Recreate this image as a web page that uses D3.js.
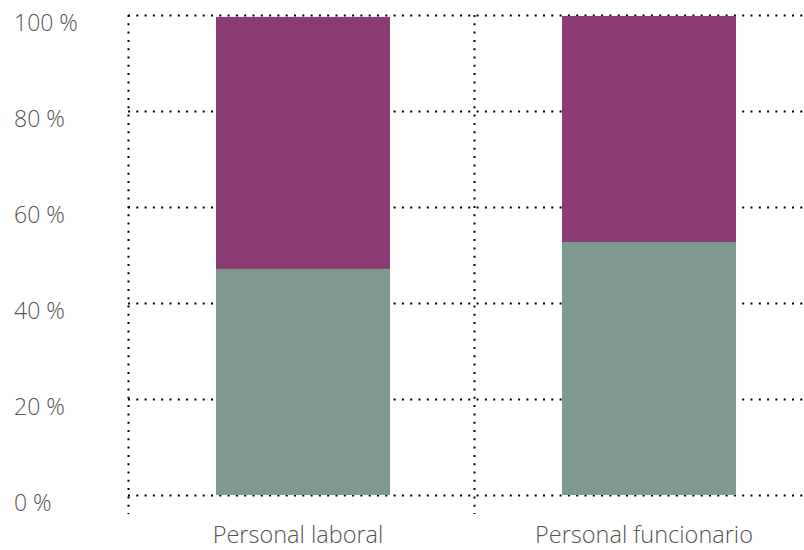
<!DOCTYPE html>
<html><head><meta charset="utf-8">
<script src="https://cdn.jsdelivr.net/npm/d3@7"></script>
<style>
html,body{margin:0;padding:0;background:#fff;}
text{font-family:"Open Sans","Segoe UI",sans-serif;font-weight:300;fill:#555555;}
</style></head>
<body><svg id="c" width="804" height="550"></svg>
<script>
const categories = ["Personal laboral", "Personal funcionario"];
const greenValues = [47.1, 52.7];
const purpleValues = [52.5, 47.1];
const yTicks = [0, 20, 40, 60, 80, 100];
const yTickLabels = ["0 %", "20 %", "40 %", "60 %", "80 %", "100 %"];

const svg = d3.select("#c");
const x = d3.scaleBand().domain(categories).range([128, 820]).paddingInner(0).paddingOuter(0);
const y = d3.scaleLinear().domain([0, 100]).range([495, 15]);
const barW = x.bandwidth() * 0.503;
const dash = "2 6.3";

// horizontal gridlines
svg.append("g").selectAll("line").data(yTicks).join("line")
  .attr("x1", 128).attr("x2", 804)
  .attr("y1", d => y(d) + 0.5).attr("y2", d => y(d) + 0.5)
  .attr("stroke", "#000").attr("stroke-width", 2).attr("stroke-dasharray", dash);

// vertical gridlines at category boundaries
const bounds = [x(categories[0]), x(categories[1])];
svg.append("g").selectAll("line").data(bounds).join("line")
  .attr("x1", d => d + 0.5).attr("x2", d => d + 0.5)
  .attr("y1", y(100)).attr("y2", 514)
  .attr("stroke", "#000").attr("stroke-width", 2).attr("stroke-dasharray", dash);

// bars
const data = categories.map((c, i) => ({c, g: greenValues[i], p: purpleValues[i]}));
const bx = d => x(d.c) + x.bandwidth() / 2 - barW / 2 + 2;
svg.append("g").selectAll("rect").data(data).join("rect")
  .attr("x", bx).attr("width", barW)
  .attr("y", d => y(d.g)).attr("height", d => y(0) - y(d.g))
  .attr("fill", "#7E998F");
svg.append("g").selectAll("rect").data(data).join("rect")
  .attr("x", bx).attr("width", barW)
  .attr("y", d => y(d.g + d.p)).attr("height", d => y(d.g) - y(d.g + d.p))
  .attr("fill", "#8A3B73");

// y tick labels
svg.append("g").selectAll("text").data(yTicks).join("text")
  .attr("x", 14).attr("y", d => y(d) + 16)
  .attr("font-size", 23)
  .text((d, i) => yTickLabels[i]);

// category labels
svg.append("g").selectAll("text").data(categories).join("text")
  .attr("x", d => x(d) + x.bandwidth() / 2 - 3).attr("y", 543)
  .attr("text-anchor", "middle").attr("font-size", 23.5)
  .text(d => d);
</script></body></html>
